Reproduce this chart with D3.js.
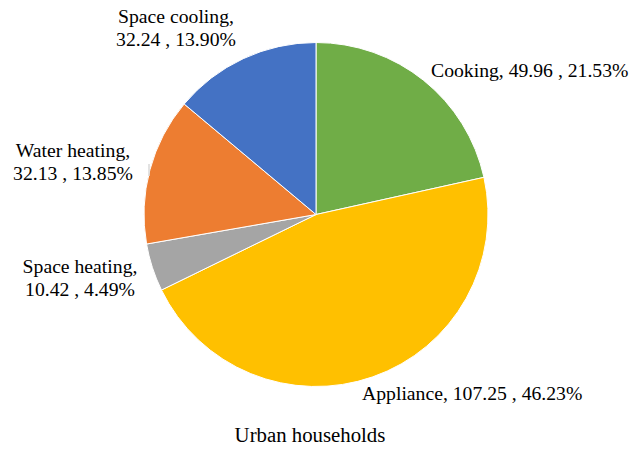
<!DOCTYPE html>
<html>
<head>
<meta charset="utf-8">
<script src="https://cdn.jsdelivr.net/npm/d3@7"></script>
<style>
  html, body { margin: 0; padding: 0; background: #fff; }
  svg { display: block; }
  text { font-family: "Liberation Serif", "Times New Roman", serif; fill: #000; }
</style>
</head>
<body>
<svg id="chart" width="644" height="449"></svg>
<script>
// Data
const categories = ["Cooking", "Appliance", "Space heating", "Water heating", "Space cooling"];
const values = [49.96, 107.25, 10.42, 32.13, 32.24];
const percents = ["21.53%", "46.23%", "4.49%", "13.85%", "13.90%"];
const colors = ["#70AD47", "#FFC000", "#A5A5A5", "#ED7D31", "#4472C4"];
const title = "Urban households";

// Layout
const W = 644, H = 449;
const cx = 316, cy = 214.5, R = 172;
const labelFont = 19.7;

// label layout: [x, y-baseline of first line, anchor, multi-line]
const labelLayout = {
  "Cooking":       { x: 431, y: 77,  anchor: "start",  lines: 1 },
  "Appliance":     { x: 362, y: 400, anchor: "start",  lines: 1 },
  "Space heating": { x: 80,  y: 273, anchor: "middle", lines: 2 },
  "Water heating": { x: 73,  y: 157, anchor: "middle", lines: 2 },
  "Space cooling": { x: 176, y: 23,  anchor: "middle", lines: 2 }
};

const svg = d3.select("#chart");
const data = categories.map((c, i) => ({ cat: c, value: values[i], pct: percents[i], color: colors[i] }));

const pie = d3.pie().sort(null).value(d => d.value).startAngle(0).endAngle(2 * Math.PI);
const arc = d3.arc().innerRadius(0).outerRadius(R);

const g = svg.append("g").attr("transform", `translate(${cx},${cy})`);

g.selectAll("path")
  .data(pie(data))
  .join("path")
  .attr("d", arc)
  .attr("fill", d => d.data.color)
  .attr("stroke", "#fff")
  .attr("stroke-width", 1);

// faint leader line near Water heating
svg.append("line")
  .attr("x1", 149).attr("y1", 164).attr("x2", 149).attr("y2", 176)
  .attr("stroke", "#d9d9d9").attr("stroke-width", 1.5);

// labels
data.forEach(d => {
  const L = labelLayout[d.cat];
  const t = svg.append("text")
    .attr("x", L.x).attr("y", L.y)
    .attr("text-anchor", L.anchor)
    .attr("font-size", labelFont);
  const v = d3.format(".2f")(d.value);
  if (L.lines === 1) {
    t.text(`${d.cat}, ${v} , ${d.pct}`);
  } else {
    t.append("tspan").attr("x", L.x).attr("y", L.y).text(`${d.cat},`);
    t.append("tspan").attr("x", L.x).attr("y", L.y + 22.5).text(`${v} , ${d.pct}`);
  }
});

svg.append("text")
  .attr("x", 310).attr("y", 442)
  .attr("text-anchor", "middle")
  .attr("font-size", 20.8)
  .text(title);
</script>
</body>
</html>
